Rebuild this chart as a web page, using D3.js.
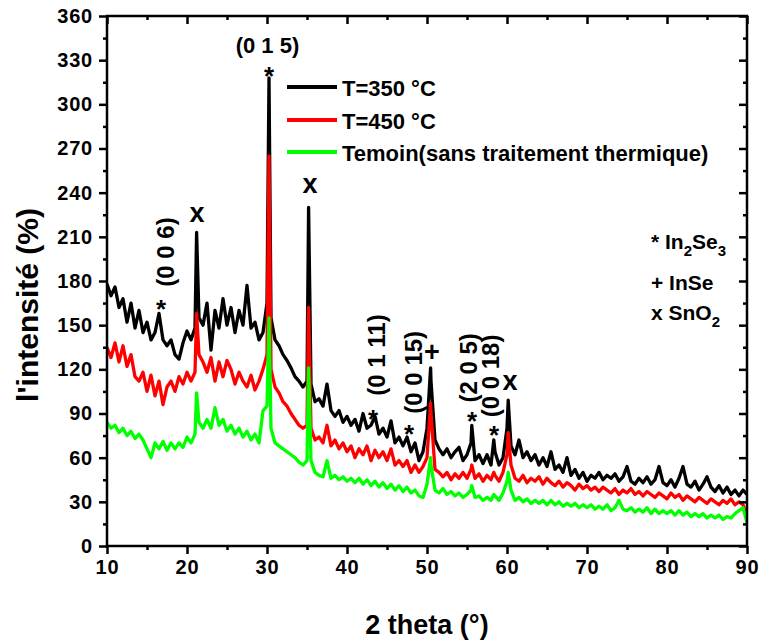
<!DOCTYPE html>
<html>
<head>
<meta charset="utf-8">
<script src="https://cdn.jsdelivr.net/npm/d3@7"></script>
<style>
  body { margin: 0; background: #fff; }
  text { font-family: "Liberation Sans", Arial, sans-serif; font-weight: bold; fill: #000; }
</style>
</head>
<body>
<svg id="chart" width="759" height="642"></svg>
<script>
// Diffraction patterns, sampled every 0.5° of 2θ from 10° to 90°
const thetaStart = 10;
const thetaStep = 0.5;

const intensity350 = [
  178,170,176,162,168,152,165,148,160,145,
  152,140,145,158,140,136,140,130,127,138,
  146,140,148,155,150,165,133,160,148,168,
  150,162,145,160,150,177,148,152,140,145,
  165,155,140,136,130,126,121,115,112,108,
  112,110,98,100,95,110,92,88,92,84,
  88,82,86,78,90,80,82,88,76,80,
  74,85,70,74,68,74,64,70,58,64,
  80,112,72,66,62,66,60,64,67,58,
  62,70,58,62,56,62,55,64,55,60,
  80,68,62,72,60,64,58,62,55,60,
  54,64,52,55,50,60,48,52,46,50,
  44,48,46,50,45,48,46,49,44,47,
  54,44,42,46,43,47,42,45,54,43,
  41,45,40,46,54,42,40,44,38,42,
  47,40,37,41,36,40,35,38,34,38,
  35
];

const intensity450 = [
  135,128,138,125,136,122,130,115,112,118,
  105,116,102,112,96,108,112,105,115,110,
  118,112,118,130,125,118,128,112,125,115,
  126,120,110,118,112,108,116,106,112,120,
  130,120,108,104,98,95,90,86,82,80,
  82,80,72,74,70,82,68,72,66,70,
  64,68,60,66,62,68,58,65,60,64,
  58,66,55,58,54,58,50,55,50,54,
  60,90,52,50,47,50,45,49,46,50,
  46,52,46,49,44,48,45,48,44,50,
  62,55,46,44,48,43,46,44,47,42,
  46,43,41,44,40,43,41,38,42,39,
  41,38,40,37,40,38,36,39,35,38,
  36,39,35,37,34,37,35,33,36,34,
  32,36,33,35,31,34,32,30,33,31,
  29,32,30,28,31,29,32,28,30,28,
  20
];

const intensityTemoin = [
  84,80,82,77,80,75,78,73,76,72,
  66,60,70,66,71,65,70,66,70,67,
  74,70,76,84,80,86,80,94,82,86,
  78,82,76,80,74,78,72,76,70,92,
  95,80,70,68,66,64,62,60,57,55,
  58,58,50,48,47,58,46,48,45,47,
  44,46,43,46,42,45,41,44,40,43,
  39,42,38,41,37,40,36,38,34,33,
  42,55,38,36,39,35,37,34,36,33,
  35,38,33,34,31,33,31,34,31,36,
  44,38,31,33,30,32,29,31,29,31,
  28,31,28,30,27,29,27,29,26,28,
  26,28,25,27,25,28,24,26,31,25,
  24,26,23,25,23,26,22,25,22,24,
  22,24,21,24,21,23,20,22,20,22,
  19,21,19,21,18,20,19,22,24,26,
  16
];

// Sharp reflections lying between grid samples
const peakTheta      = [21.2, 30.25, 35.2, 50.45, 55.6, 58.35, 60.15];
const peak350        = [213, 318, 230, 121, 82, 72, 99];
const peak450        = [158, 265, 162, 97, 55, 50, 77];
const peakTemoin     = [104, 155, 121, 60, 41, 35, 50];

const seriesLabels = ["T=350 °C", "T=450 °C", "Temoin(sans traitement thermique)"];

const xTicks = [10, 20, 30, 40, 50, 60, 70, 80, 90];
const xMinorTicks = [15, 25, 35, 45, 55, 65, 75, 85];
const yTicks = [0, 30, 60, 90, 120, 150, 180, 210, 240, 270, 300, 330, 360];
const yMinorTicks = [15, 45, 75, 105, 135, 165, 195, 225, 255, 285, 315, 345];

// Peak annotations: label, 2θ, intensity level, kind
const annoText  = ["(0 0 6)", "*", "x", "(0 1 5)", "*", "x", "(0 1 11)", "*", "(0 0 15)", "*", "+", "(2 0 5)", "*", "(0 0 18)", "*", "x"];
const annoTheta = [17.35, 16.75, 21.25, 30.06, 30.25, 35.37, 43.75, 43.25, 48.37, 47.75, 50.62, 55.25, 55.62, 58.0, 58.37, 60.37];
const annoLevel = [199.7, 165.7, 224.8, 340, 324, 244.5, 129.7, 91, 118, 80.8, 131.8, 121, 89.7, 115.5, 80.2, 110.7];
const annoKind  = ["rot", "star", "x", "hkl", "star", "x", "rot", "star", "rot", "star", "plus", "rot", "star", "rot", "star", "x"];

const svg = d3.select("#chart");
const plotLeft = 107, plotRight = 747, plotTop = 16, plotBottom = 546;

const x = d3.scaleLinear().domain([10, 90]).range([plotLeft, plotRight]);
const y = d3.scaleLinear().domain([0, 360]).range([plotBottom, plotTop]);

const twoTheta = intensity350.map((_, i) => thetaStart + i * thetaStep);

function buildSeries(values, peaks) {
  const pts = twoTheta.map((t, i) => ({ t, v: values[i] }))
    .concat(peakTheta.map((t, i) => ({ t, v: peaks[i] })));
  return pts.sort((a, b) => a.t - b.t);
}

const series = [
  { data: buildSeries(intensity350, peak350), color: "#000000" },
  { data: buildSeries(intensity450, peak450), color: "#ff0000" },
  { data: buildSeries(intensityTemoin, peakTemoin), color: "#00ff00" }
];

svg.append("defs").append("clipPath").attr("id", "plotClip")
  .append("rect").attr("x", plotLeft).attr("y", plotTop)
  .attr("width", plotRight - plotLeft).attr("height", plotBottom - plotTop);

const line = d3.line().x(d => x(d.t)).y(d => y(d.v));

svg.append("g").attr("clip-path", "url(#plotClip)")
  .selectAll("path").data(series).join("path")
  .attr("d", d => line(d.data))
  .attr("fill", "none")
  .attr("stroke", d => d.color)
  .attr("stroke-width", 3.3)
  .attr("stroke-linejoin", "round");

// Axes
const tickFont = g => g.selectAll("text")
  .style("font-size", "20px").style("font-weight", "bold")
  .style("font-family", '"Liberation Sans", Arial, sans-serif')
  .attr("fill", "#000").style("letter-spacing", "0.8px");
const clean = g => { g.select(".domain").remove(); g.selectAll("line").attr("stroke", "#000").attr("stroke-width", 2.5); };

svg.append("g").attr("transform", `translate(0,${plotBottom})`)
  .call(d3.axisBottom(x).tickValues(xTicks).tickSize(8).tickPadding(6).tickFormat(d3.format("d")))
  .call(clean).call(tickFont);
svg.append("g").attr("transform", `translate(0,${plotBottom})`)
  .call(d3.axisBottom(x).tickValues(xMinorTicks).tickSize(4).tickFormat(""))
  .call(clean);
svg.append("g").attr("transform", `translate(${plotLeft},0)`)
  .call(d3.axisLeft(y).tickValues(yTicks).tickSize(8).tickPadding(6).tickFormat(d3.format("d")))
  .call(clean).call(tickFont);
svg.append("g").attr("transform", `translate(${plotLeft},0)`)
  .call(d3.axisLeft(y).tickValues(yMinorTicks).tickSize(4).tickFormat(""))
  .call(clean);

// Mirrored ticks on top and right, pointing inward
svg.append("g").attr("transform", `translate(0,${plotTop})`)
  .call(d3.axisBottom(x).tickValues(xTicks).tickSize(8).tickFormat(""))
  .call(clean);
svg.append("g").attr("transform", `translate(0,${plotTop})`)
  .call(d3.axisBottom(x).tickValues(xMinorTicks).tickSize(4).tickFormat(""))
  .call(clean);
svg.append("g").attr("transform", `translate(${plotRight},0)`)
  .call(d3.axisLeft(y).tickValues(yTicks).tickSize(8).tickFormat(""))
  .call(clean);
svg.append("g").attr("transform", `translate(${plotRight},0)`)
  .call(d3.axisLeft(y).tickValues(yMinorTicks).tickSize(4).tickFormat(""))
  .call(clean);

svg.append("rect")
  .attr("x", plotLeft).attr("y", plotTop)
  .attr("width", plotRight - plotLeft).attr("height", plotBottom - plotTop)
  .attr("fill", "none").attr("stroke", "#000").attr("stroke-width", 2.5);

// Axis titles
svg.append("text")
  .attr("x", (plotLeft + plotRight) / 2).attr("y", 634)
  .attr("text-anchor", "middle").style("font-size", "27px")
  .text("2 theta (°)");
svg.append("text")
  .attr("transform", "translate(38,305) rotate(-90)")
  .attr("text-anchor", "middle").style("font-size", "30px")
  .text("l'intensité (%)");

// Series legend
const legend = svg.append("g");
const legendY = [87, 120, 152];
seriesLabels.forEach((label, i) => {
  legend.append("line")
    .attr("x1", 287).attr("x2", 337).attr("y1", legendY[i]).attr("y2", legendY[i])
    .attr("stroke", series[i].color).attr("stroke-width", 4);
  legend.append("text")
    .attr("x", 342).attr("y", legendY[i] + 9)
    .style("font-size", "22px")
    .text(label);
});

// Phase key
const key = svg.append("g").style("font-size", "21px");
const k1 = key.append("text").attr("x", 651).attr("y", 249);
k1.append("tspan").text("* In");
k1.append("tspan").attr("dy", 7).style("font-size", "15px").text("2");
k1.append("tspan").attr("dy", -7).text("Se");
k1.append("tspan").attr("dy", 7).style("font-size", "15px").text("3");
key.append("text").attr("x", 651).attr("y", 290).text("+ InSe");
const k3 = key.append("text").attr("x", 651).attr("y", 320);
k3.append("tspan").text("x SnO");
k3.append("tspan").attr("dy", 7).style("font-size", "15px").text("2");

// Peak annotations
const annoStyle = {
  rot:  { size: 24, dy: "0.33em" },
  hkl:  { size: 22, dy: "0.33em" },
  star: { size: 26, dy: "0.6em" },
  x:    { size: 27, dy: "0.27em" },
  plus: { size: 27, dy: "0.34em" }
};
annoText.forEach((txt, i) => {
  const s = annoStyle[annoKind[i]];
  const px = x(annoTheta[i]), py = y(annoLevel[i]);
  const t = svg.append("text")
    .attr("text-anchor", "middle")
    .attr("dy", s.dy)
    .style("font-size", s.size + "px")
    .text(txt);
  if (annoKind[i] === "rot") t.attr("transform", `translate(${px},${py}) rotate(-90)`);
  else t.attr("x", px).attr("y", py);
});
</script>
</body>
</html>
